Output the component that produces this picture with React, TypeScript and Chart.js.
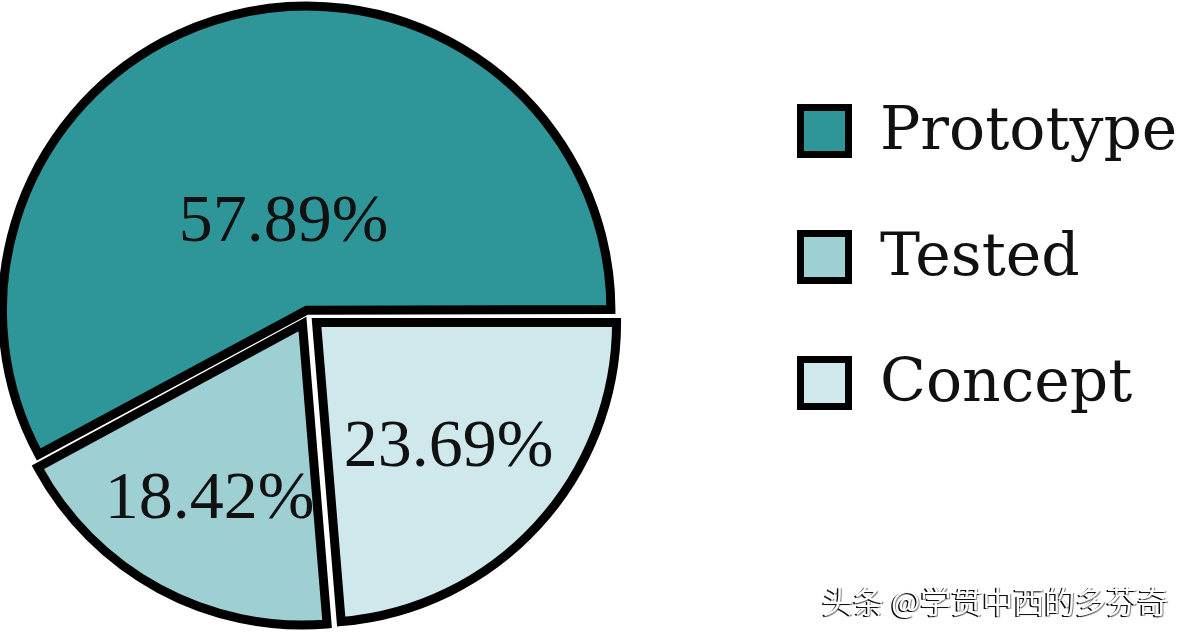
import React, { useEffect, useRef } from "react";
import { Chart, registerables } from "chart.js";

Chart.register(...registerables);

// ---- data (drawing order: clockwise from 3 o'clock) ----
const categories = ["Concept", "Tested", "Prototype"];
const shares = [23.69, 18.42, 57.89];
const legendOrder = ["Prototype", "Tested", "Concept"];
const watermark = "头条 @学贯中西的多芬奇";

// ---- styles ----
const sliceColors: Record<string, string> = {
  Concept: "#CFE8EB",
  Tested: "#9DCFD3",
  Prototype: "#2E9699",
};
const sliceOffsets = [48, 44, 17];
const labelRadiusFrac = [0.638, 0.687, 0.327];

const W = 1186;
const H = 632;

const pctLabels = {
  id: "pctLabels",
  afterDatasetsDraw(chart: any) {
    const ctx = chart.ctx;
    const meta = chart.getDatasetMeta(0);
    ctx.save();
    ctx.font = '68px "Liberation Serif"';
    ctx.fillStyle = "#111";
    ctx.textAlign = "center";
    ctx.textBaseline = "alphabetic";
    meta.data.forEach((arc: any, i: number) => {
      const p = arc.getProps(["x", "y", "startAngle", "endAngle", "outerRadius"], true);
      const mid = (p.startAngle + p.endAngle) / 2;
      const d = labelRadiusFrac[i] * p.outerRadius;
      const x = p.x + Math.cos(mid) * d;
      const y = p.y + Math.sin(mid) * d;
      ctx.fillText(shares[i].toFixed(2) + "%", x, y + 22);
    });
    ctx.restore();
  },
};

export default function App() {
  const canvasRef = useRef<HTMLCanvasElement | null>(null);

  useEffect(() => {
    if (!canvasRef.current) return;
    const chart = new Chart(canvasRef.current, {
      type: "pie",
      data: {
        labels: categories,
        datasets: [
          {
            data: shares,
            backgroundColor: categories.map((c) => sliceColors[c]),
            borderColor: "#000",
            borderWidth: 9,
            borderJoinStyle: "miter",
            offset: sliceOffsets,
          } as any,
        ],
      },
      options: {
        animation: false,
        responsive: true,
        maintainAspectRatio: false,
        rotation: 90,
        radius: 300,
        layout: {
          padding: { left: 0, top: 0, right: W - 615.4, bottom: H - 628.8 },
        },
        plugins: {
          legend: { display: false },
          tooltip: { enabled: false },
        },
      } as any,
      plugins: [pctLabels],
    });
    return () => chart.destroy();
  }, []);

  return (
    <div
      style={{
        position: "fixed",
        left: 0,
        top: 0,
        width: W,
        height: H,
        background: "#fff",
        overflow: "hidden",
      }}
    >
      <div style={{ position: "absolute", left: 0, top: 0, width: W, height: H }}>
        <canvas ref={canvasRef} />
      </div>
      {legendOrder.map((name, i) => (
        <div
          key={name}
          style={{
            position: "absolute",
            left: 797,
            top: 104 + i * 126,
            height: 54,
            display: "flex",
            alignItems: "flex-start",
          }}
        >
          <div
            style={{
              width: 41,
              height: 40,
              border: "7px solid #000",
              background: sliceColors[name],
            }}
          />
          <span
            style={{
              position: "absolute",
              left: 83,
              top: -6,
              fontFamily: '"DejaVu Serif"',
              fontSize: 60,
              lineHeight: "60px",
              color: "#111",
              whiteSpace: "nowrap",
            }}
          >
            {name}
          </span>
        </div>
      ))}
      <div
        style={{
          position: "absolute",
          left: 822,
          top: 580,
          fontFamily: '"Noto Sans CJK SC"',
          fontSize: 31,
          lineHeight: "40px",
          color: "#fff",
          textShadow: "-1.5px 0.5px 0 #111, 1px 1px 1px rgba(0,0,0,0.5)",
          whiteSpace: "nowrap",
        }}
      >
        {watermark}
      </div>
    </div>
  );
}
